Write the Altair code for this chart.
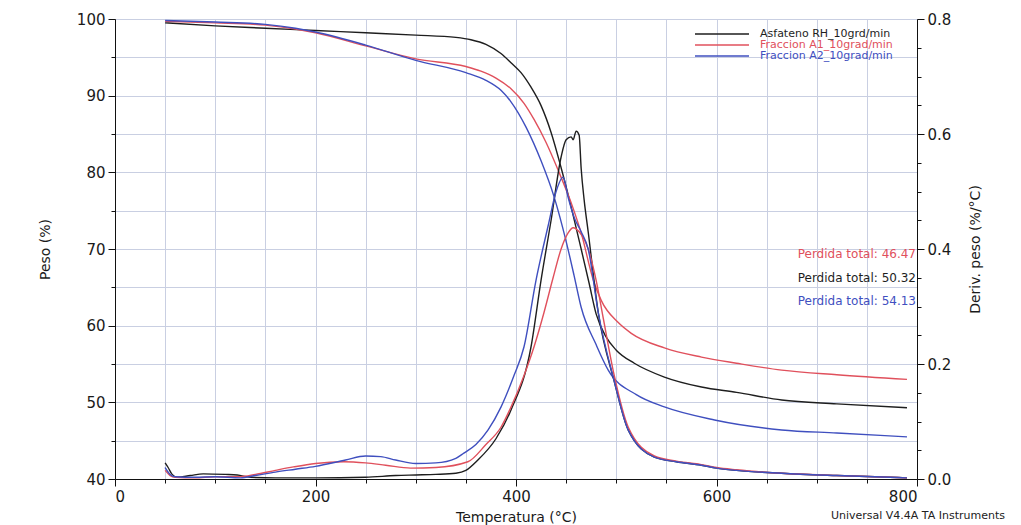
import altair as alt
import pandas as pd

SERIES = ["Asfateno RH_10grd/min", "Fraccion A1_10grad/min", "Fraccion A2_10grad/min"]
COLORS = ["#1e1e1e", "#e0505c", "#3f4fbf"]
LOSS_TEXT = ["Perdida total: 46.47", "Perdida total: 50.32", "Perdida total: 54.13"]
LOSS_SERIES = [SERIES[1], SERIES[0], SERIES[2]]
FOOTER = "Universal V4.4A TA Instruments"

# ---- weight curves (Peso %) ----
T_W_BLACK = [50, 100, 150, 200, 250, 300, 340, 355, 370, 385, 395, 405, 415, 425, 435, 445, 455, 465,
             473, 480, 490, 500, 518, 548, 585, 620, 665, 720, 790]
W_BLACK = [99.5, 99.1, 98.8, 98.5, 98.2, 97.9, 97.6, 97.3, 96.7, 95.5, 94.3, 93.0, 91.1, 88.7, 85.2,
           80.6, 75.5, 70.0, 65.5, 61.5, 58.5, 56.8, 55.1, 53.3, 52.0, 51.3, 50.3, 49.8, 49.3]

T_W_RED = [50, 100, 150, 180, 200, 250, 300, 350, 365, 380, 395, 408, 418, 430, 442, 457, 465, 477, 485,
           502, 515, 548, 585, 620, 665, 720, 790]
W_RED = [99.7, 99.5, 99.2, 98.7, 98.2, 96.5, 94.8, 93.8, 93.2, 92.3, 90.9, 89.0, 86.9, 83.9, 80.3,
         75.3, 72.1, 66.0, 63.3, 60.4, 59.0, 57.1, 55.9, 55.1, 54.2, 53.6, 53.0]

T_W_BLUE = [50, 100, 150, 180, 200, 250, 300, 350, 370, 385, 395, 410, 425, 438, 450, 458, 465, 480,
            492, 520, 548, 598, 665, 720, 790]
W_BLUE = [99.8, 99.6, 99.3, 98.8, 98.3, 96.6, 94.6, 93.0, 92.0, 90.7, 89.2, 85.9, 81.5, 76.8, 71.0,
          66.5, 62.4, 57.5, 54.2, 51.0, 49.4, 47.7, 46.4, 46.0, 45.5]

# ---- derivative curves (%/°C) ----
T_D_BLACK = [50, 53, 57, 62, 75, 88, 110, 122, 135, 160, 200, 250, 280, 300, 320, 340, 350, 362, 380,
             395, 415, 425, 435, 445, 450, 455, 457, 460, 463, 465, 468, 472, 482, 498, 512, 538, 560,
             585, 600, 620, 665, 720, 790]
D_BLACK = [0.028, 0.020, 0.008, 0.003, 0.006, 0.009, 0.008, 0.007, 0.003, 0.002, 0.002, 0.003, 0.006,
           0.007, 0.008, 0.010, 0.015, 0.033, 0.070, 0.120, 0.230, 0.346, 0.450, 0.560, 0.590, 0.595,
           0.590, 0.605, 0.598, 0.540, 0.485, 0.430, 0.290, 0.170, 0.085, 0.038, 0.030, 0.024, 0.019,
           0.015, 0.010, 0.006, 0.002]

T_D_RED = [50, 55, 60, 80, 100, 125, 140, 160, 178, 200, 228, 250, 270, 295, 320, 352, 370, 385, 395,
           408, 418, 428, 437, 445, 452, 457, 463, 472, 480, 487, 498, 512, 538, 560, 585, 600, 620,
           665, 720, 790]
D_RED = [0.015, 0.006, 0.003, 0.002, 0.004, 0.004, 0.008, 0.015, 0.021, 0.027, 0.030, 0.028, 0.024,
         0.019, 0.020, 0.030, 0.060, 0.090, 0.125, 0.180, 0.230, 0.290, 0.350, 0.400, 0.428, 0.437,
         0.430, 0.400, 0.345, 0.280, 0.180, 0.090, 0.040, 0.031, 0.025, 0.020, 0.016, 0.010, 0.006,
         0.002]

T_D_BLUE = [50, 55, 60, 80, 100, 125, 140, 160, 180, 200, 230, 250, 265, 280, 300, 320, 340, 348, 360,
            372, 385, 398, 408, 420, 432, 440, 447, 452, 458, 465, 472, 482, 498, 512, 538, 560, 585,
            600, 620, 665, 720, 790]
D_BLUE = [0.020, 0.008, 0.004, 0.003, 0.004, 0.002, 0.006, 0.012, 0.017, 0.022, 0.033, 0.040, 0.039,
          0.033, 0.027, 0.028, 0.036, 0.045, 0.060, 0.085, 0.125, 0.180, 0.230, 0.346, 0.440, 0.500,
          0.525, 0.490, 0.455, 0.430, 0.400, 0.290, 0.170, 0.085, 0.038, 0.030, 0.024, 0.019, 0.015,
          0.010, 0.006, 0.002]

X_TICKS = list(range(0, 801, 50))
W_TICKS = list(range(40, 101, 5))
D_TICKS = [round(i * 0.05, 2) for i in range(17)]

FONT = "DejaVu Sans"
GRID = "#c9cfe2"
INK = "#1a1a1a"


def frame(series, t, v, col):
    return pd.DataFrame({"T": t, col: v, "series": series})


df_w = pd.concat([frame(SERIES[0], T_W_BLACK, W_BLACK, "W"),
                  frame(SERIES[1], T_W_RED, W_RED, "W"),
                  frame(SERIES[2], T_W_BLUE, W_BLUE, "W")])
df_d = pd.concat([frame(SERIES[0], T_D_BLACK, D_BLACK, "D"),
                  frame(SERIES[1], T_D_RED, D_RED, "D"),
                  frame(SERIES[2], T_D_BLUE, D_BLUE, "D")])

color = alt.Color("series:N", scale=alt.Scale(domain=SERIES, range=COLORS), legend=None)

AX = dict(domainColor="#111", tickColor="#111", labelColor=INK, titleColor=INK,
          labelFont=FONT, titleFont=FONT, labelFontSize=15, titleFontSize=14,
          titleFontWeight="normal", labelPadding=3)

x_enc = alt.X("T:Q", scale=alt.Scale(domain=[0, 800], nice=False, zero=False),
              axis=alt.Axis(values=X_TICKS, title="Temperatura (°C)",
                            labelExpr="datum.value % 200 == 0 ? datum.label : ''",
                            tickSize={"condition": {"test": "datum.value % 200 == 0", "value": 7}, "value": 4},
                            grid=True, gridColor=GRID, gridWidth=1,
                            titleY=38, titleBaseline="middle", **AX))

weight = alt.Chart(df_w).mark_line(strokeWidth=1.4, interpolate="monotone").encode(
    x=x_enc,
    y=alt.Y("W:Q", scale=alt.Scale(domain=[40, 100], nice=False, zero=False),
            axis=alt.Axis(values=W_TICKS, title="Peso (%)",
                          labelExpr="datum.value % 10 == 0 ? datum.label : ''",
                          tickSize={"condition": {"test": "datum.value % 10 == 0", "value": 7}, "value": 4},
                          grid=True, gridColor=GRID, gridWidth=1,
                          titleX=-70, titleY=230, titleBaseline="middle", **AX)),
    color=color,
)

deriv = alt.Chart(df_d).mark_line(strokeWidth=1.4, interpolate="monotone").encode(
    x=alt.X("T:Q"),
    y=alt.Y("D:Q", scale=alt.Scale(domain=[0, 0.8], nice=False),
            axis=alt.Axis(orient="right", values=D_TICKS, title="Deriv. peso (%/°C)", format=".1f",
                          labelExpr="round(datum.value * 100) % 20 == 0 ? datum.label : ''",
                          tickSize={"condition": {"test": "round(datum.value * 100) % 20 == 0", "value": 7}, "value": 4},
                          grid=False, titleAngle=270, titleX=58, titleY=230, titleBaseline="middle", **AX)),
    color=color,
)

layers = [weight, deriv]

# legend (top right, inside the plot)
for i, s in enumerate(SERIES):
    ypix = 15 + i * 11
    one = pd.DataFrame({"series": [s]})
    layers.append(alt.Chart(one).mark_rule(strokeWidth=1.4).encode(
        x=alt.value(580), x2=alt.value(634), y=alt.value(ypix), color=color))
    layers.append(alt.Chart(one).mark_text(align="left", baseline="middle", font=FONT, fontSize=11).encode(
        x=alt.value(645), y=alt.value(ypix), text="series:N", color=color))

# total-loss annotations
for i, (txt, s) in enumerate(zip(LOSS_TEXT, LOSS_SERIES)):
    one = pd.DataFrame({"series": [s], "label": [txt]})
    layers.append(alt.Chart(one).mark_text(align="right", baseline="middle", font=FONT, fontSize=12).encode(
        x=alt.value(801), y=alt.value(235 + i * 23.5), text="label:N", color=color))

footer = alt.Chart(pd.DataFrame({"label": [FOOTER]})).mark_text(
    align="right", baseline="middle", font=FONT, fontSize=11, color="#222").encode(
    x=alt.value(890), y=alt.value(497), text="label:N")
layers.append(footer)

chart = alt.layer(*layers).resolve_scale(y="independent").properties(
    width=802, height=460,
    background="white",
    autosize=alt.AutoSizeParams(type="none"),
    padding={"left": 115, "top": 19, "right": 104, "bottom": 46},
).configure_view(stroke="#111", strokeWidth=1)

chart.save("out.html", embed_options={"renderer": "svg", "actions": False})
